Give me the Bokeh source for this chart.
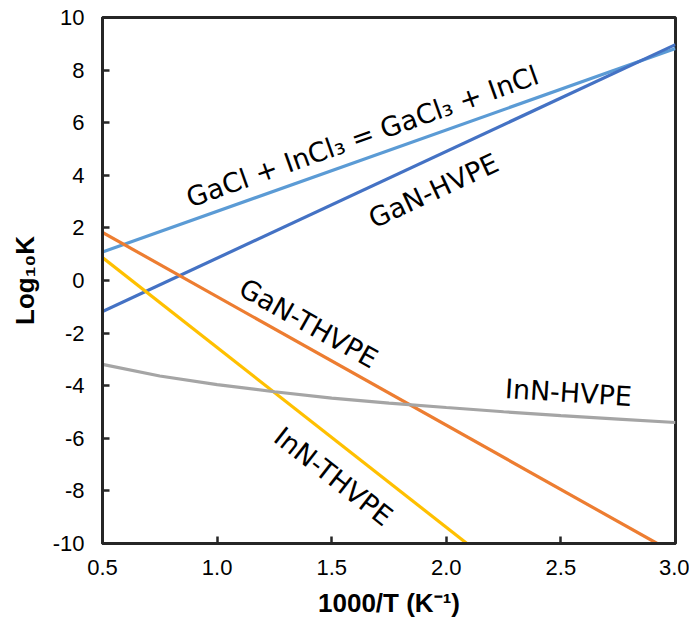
from bokeh.plotting import figure
from bokeh.models import Range1d, FixedTicker, PrintfTickFormatter, Label
from bokeh.embed import file_html
from bokeh.resources import INLINE
import math

# ---- data ----
gacl_x = [0.5, 3.0]
gacl_y = [1.08, 8.82]

gan_hvpe_x = [0.5, 3.0]
gan_hvpe_y = [-1.18, 8.97]

gan_thvpe_x = [0.5, 2.92]
gan_thvpe_y = [1.83, -10.0]

inn_thvpe_x = [0.5, 2.09]
inn_thvpe_y = [0.87, -10.0]

inn_hvpe_x = [0.5, 0.75, 1.0, 1.25, 1.5, 1.75, 2.0, 2.25, 2.5, 2.75, 3.0]
inn_hvpe_y = [-3.19, -3.63, -3.96, -4.23, -4.47, -4.66, -4.83, -4.99, -5.14, -5.27, -5.40]

x_ticks = [0.5, 1.0, 1.5, 2.0, 2.5, 3.0]
y_ticks = [-10, -8, -6, -4, -2, 0, 2, 4, 6, 8, 10]

INK = "#262626"

p = figure(width=689, height=625, output_backend="svg", toolbar_location=None,
           x_range=Range1d(x_ticks[0], x_ticks[-1]), y_range=Range1d(y_ticks[0], y_ticks[-1]),
           min_border_left=102, min_border_right=14, min_border_top=17, min_border_bottom=82)

p.xgrid.visible = False
p.ygrid.visible = False
p.outline_line_color = INK
p.outline_line_width = 3

lw = 3.2
p.line(gacl_x, gacl_y, line_color="#5B9BD5", line_width=lw)
p.line(gan_hvpe_x, gan_hvpe_y, line_color="#4472C4", line_width=lw)
p.line(gan_thvpe_x, gan_thvpe_y, line_color="#ED7D31", line_width=lw)
p.line(inn_thvpe_x, inn_thvpe_y, line_color="#FFC000", line_width=lw)
p.line(inn_hvpe_x, inn_hvpe_y, line_color="#A5A5A5", line_width=lw)

for ax in (p.xaxis[0], p.yaxis[0]):
    ax.axis_line_color = INK
    ax.axis_line_width = 3
    ax.major_tick_line_color = INK
    ax.major_tick_in = 7
    ax.major_tick_out = 0
    ax.major_tick_line_width = 2.5
    ax.minor_tick_line_color = None
    ax.major_label_text_font = "Liberation Sans"
    ax.major_label_text_font_size = "22px"
    ax.major_label_text_color = "black"
    ax.axis_label_text_font = "Liberation Sans"
    ax.axis_label_text_font_style = "bold"
    ax.axis_label_text_font_size = "26px"
    ax.axis_label_text_color = "black"

p.xaxis.ticker = FixedTicker(ticks=x_ticks)
p.xaxis.formatter = PrintfTickFormatter(format="%.1f")
p.yaxis.ticker = FixedTicker(ticks=y_ticks)
p.yaxis.formatter = PrintfTickFormatter(format="%d")
p.xaxis.axis_label = "1000/T (K\u207b\u00b9)"
p.yaxis.axis_label = "Log\u2081\u2080K"
p.xaxis.major_label_standoff = 16
p.yaxis.major_label_standoff = 18
p.xaxis.axis_label_standoff = 10
p.yaxis.axis_label_standoff = 10

labels = [
    ("GaCl + InCl\u2083 = GaCl\u2083 + InCl", 1.634, 5.48, 19.6),
    ("GaN-HVPE", 1.944, 3.42, 25.0),
    ("GaN-THVPE", 1.399, -1.63, -29.3),
    ("InN-HVPE", 2.533, -4.26, -3.6),
    ("InN-THVPE", 1.508, -7.45, -38.0),
]
for txt, x, y, ang in labels:
    p.add_layout(Label(x=x, y=y, text=txt, angle=math.radians(ang),
                       text_align="center", text_baseline="middle",
                       text_font="DejaVu Sans", text_font_size="27px",
                       text_color="black"))

open("out.html", "w").write(file_html(p, INLINE))
